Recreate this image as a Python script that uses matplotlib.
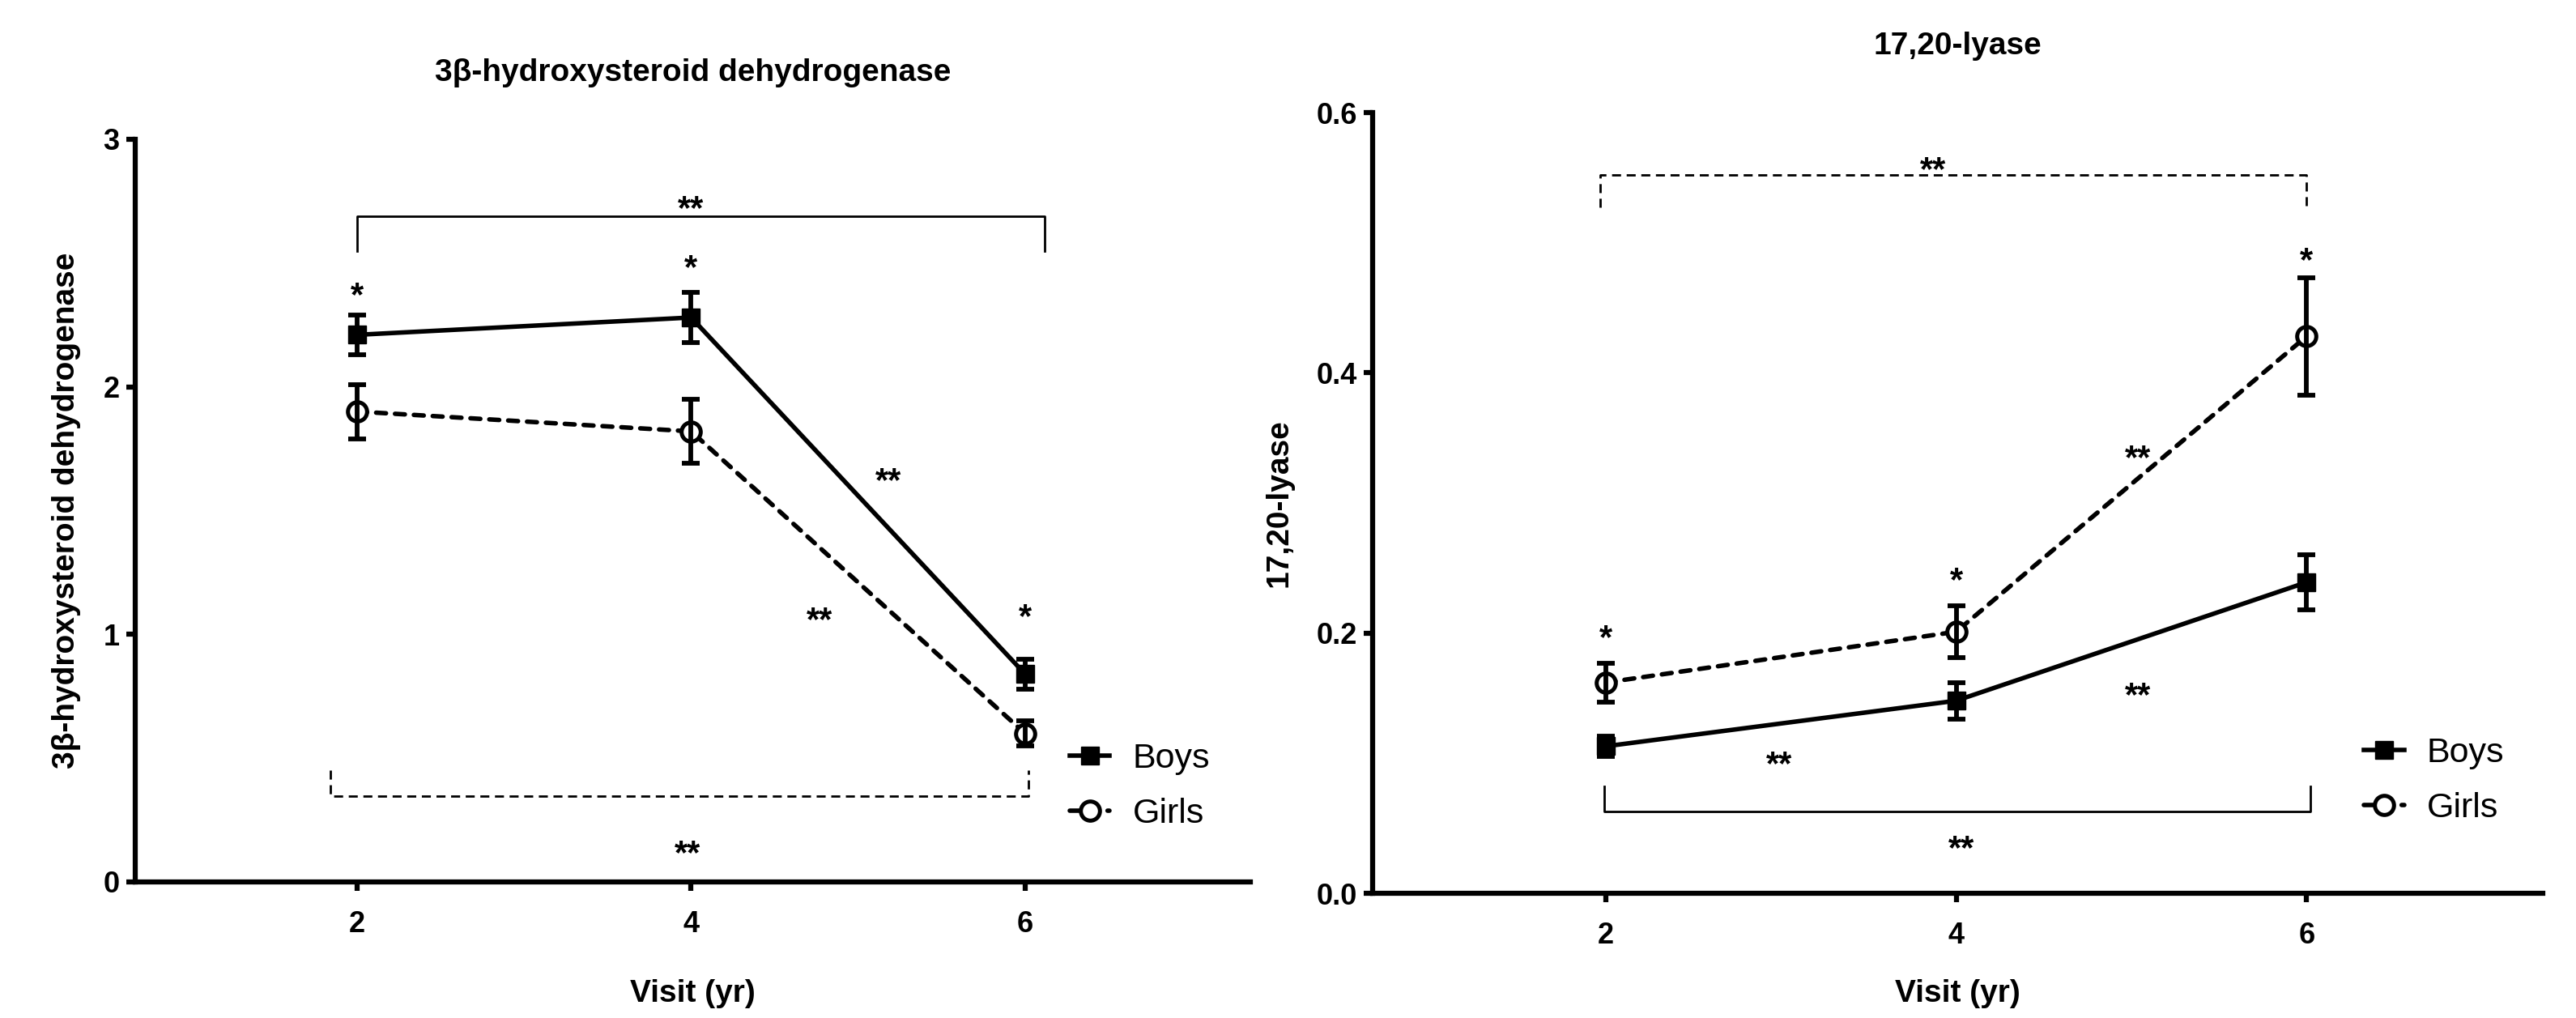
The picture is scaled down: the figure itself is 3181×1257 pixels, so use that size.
import matplotlib
matplotlib.use("Agg")
import matplotlib.pyplot as plt

plt.rcParams["font.family"] = ["Liberation Sans", "DejaVu Sans"]
plt.rcParams["font.weight"] = "bold"
plt.rcParams["axes.titleweight"] = "bold"
plt.rcParams["axes.labelweight"] = "bold"

# ---- data ----
visits = [2, 4, 6]

hsd_boys = [2.21, 2.28, 0.84]
hsd_boys_err = [0.08, 0.10, 0.06]
hsd_girls = [1.90, 1.82, 0.60]
hsd_girls_err = [0.11, 0.13, 0.05]

lyase_boys = [0.113, 0.148, 0.239]
lyase_boys_err = [0.008, 0.014, 0.021]
lyase_girls = [0.162, 0.201, 0.428]
lyase_girls_err = [0.015, 0.020, 0.045]

# significance brackets (x, y) and star labels (x, y, text)
hsd_top_bracket_x = [2.0, 2.0, 6.12, 6.12]
hsd_top_bracket_y = [2.55, 2.69, 2.69, 2.55]
hsd_bottom_bracket_x = [1.84, 1.84, 6.02, 6.02]
hsd_bottom_bracket_y = [0.45, 0.346, 0.346, 0.45]
hsd_stars = [
    (4.0, 2.76, "**"),
    (2.0, 2.41, "*"),
    (4.0, 2.52, "*"),
    (6.0, 1.11, "*"),
    (5.18, 1.66, "**"),
    (4.77, 1.10, "**"),
    (3.98, 0.155, "**"),
]

lyase_top_bracket_x = [1.97, 1.97, 6.0, 6.0]
lyase_top_bracket_y = [0.527, 0.552, 0.552, 0.527]
lyase_bottom_bracket_x = [1.99, 1.99, 6.02, 6.02]
lyase_bottom_bracket_y = [0.082, 0.063, 0.063, 0.082]
lyase_stars = [
    (3.87, 0.564, "**"),
    (6.0, 0.494, "*"),
    (5.04, 0.342, "**"),
    (4.0, 0.248, "*"),
    (2.0, 0.204, "*"),
    (5.04, 0.160, "**"),
    (2.99, 0.107, "**"),
    (4.03, 0.042, "**"),
]

TITLE_SIZE = 28
TICK_SIZE = 26
STAR_SIZE = 30
LEGEND_SIZE = 31


def draw_panel(ax, boys, boys_err, girls, girls_err, ylim, yticks, ytick_labels,
               title, ylabel, top_bx, top_by, top_style, bot_bx, bot_by, bot_style,
               stars, legend_anchor, xlabel_pad):
    boys_line, = ax.plot(visits, boys, color="black", lw=4, marker="s",
                         ms=16, mfc="black", mec="black", zorder=3)
    ax.errorbar(visits, boys, yerr=boys_err, fmt="none", ecolor="black",
                elinewidth=4.2, capsize=8, capthick=4.2, zorder=4)

    girls_line, = ax.plot(visits, girls, color="black", lw=4, ls=(0, (2.2, 2.0)),
                          dash_capstyle="round", marker="o", ms=17, mfc="white",
                          mec="black", mew=3.6, zorder=3)
    ax.errorbar(visits, girls, yerr=girls_err, fmt="none", ecolor="black",
                elinewidth=4.2, capsize=8, capthick=4.2, zorder=4)

    ax.plot(top_bx, top_by, color="black", lw=2, ls=top_style, zorder=2)
    ax.plot(bot_bx, bot_by, color="black", lw=2, ls=bot_style, zorder=2)

    for x, y, s in stars:
        ax.annotate(s, (x, y), xytext=(0, -10), textcoords="offset points",
                    ha="center", va="center", fontsize=STAR_SIZE)

    ax.set_xlim(0.67, 7.35)
    ax.set_ylim(*ylim)
    ax.set_xticks(visits)
    ax.set_yticks(yticks)
    ax.set_yticklabels(ytick_labels)

    for side in ["top", "right"]:
        ax.spines[side].set_visible(False)
    for side in ["left", "bottom"]:
        ax.spines[side].set_linewidth(4.5)
    ax.tick_params(axis="both", width=4.5, length=8, labelsize=TICK_SIZE)
    ax.tick_params(axis="x", pad=17)
    ax.tick_params(axis="y", pad=6)

    ax.set_xlabel("Visit (yr)", fontsize=TITLE_SIZE, labelpad=xlabel_pad)
    ax.set_ylabel(ylabel, fontsize=TITLE_SIZE, labelpad=20)
    ax.set_title(title, fontsize=TITLE_SIZE, pad=52)

    ax.legend([boys_line, girls_line], ["Boys", "Girls"], loc="center left",
              bbox_to_anchor=legend_anchor, frameon=False, borderpad=0,
              borderaxespad=0, handlelength=1.15, handletextpad=0.65,
              labelspacing=0.65,
              prop={"size": LEGEND_SIZE, "weight": "normal"})


fig = plt.figure(figsize=(31.81, 12.57), dpi=100)
ax1 = fig.add_axes([0.0525, 0.1337, 0.4329, 0.7295])
ax2 = fig.add_axes([0.5329, 0.1225, 0.4543, 0.7669])

draw_panel(ax1, hsd_boys, hsd_boys_err, hsd_girls, hsd_girls_err,
           (0, 3), [0, 1, 2, 3], ["0", "1", "2", "3"],
           "3β-hydroxysteroid dehydrogenase", "3β-hydroxysteroid dehydrogenase",
           hsd_top_bracket_x, hsd_top_bracket_y, "-",
           hsd_bottom_bracket_x, hsd_bottom_bracket_y, (0, (4, 2.5)),
           hsd_stars, (0.838, 0.129), 36)

draw_panel(ax2, lyase_boys, lyase_boys_err, lyase_girls, lyase_girls_err,
           (0, 0.6), [0, 0.2, 0.4, 0.6], ["0.0", "0.2", "0.4", "0.6"],
           "17,20-lyase", "17,20-lyase",
           lyase_top_bracket_x, lyase_top_bracket_y, (0, (4, 2.5)),
           lyase_bottom_bracket_x, lyase_bottom_bracket_y, "-",
           lyase_stars, (0.847, 0.144), 26)

fig.savefig("out.png", dpi=100)
